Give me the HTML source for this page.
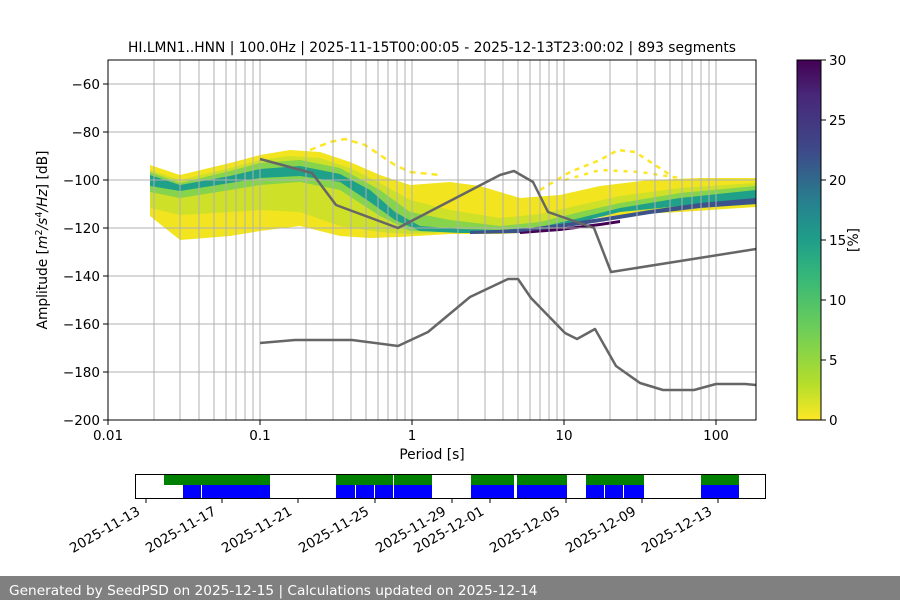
<!DOCTYPE html>
<html><head><meta charset="utf-8"><style>
html,body{margin:0;padding:0;background:#fff;}
svg{display:block;font-family:"DejaVu Sans","Liberation Sans",sans-serif;}
</style></head><body>
<svg width="900" height="600" viewBox="0 0 900 600" xmlns="http://www.w3.org/2000/svg">
<defs>
<linearGradient id="vir" x1="0" y1="1" x2="0" y2="0">
<stop offset="0" stop-color="#fde725"/><stop offset="0.1" stop-color="#b5de2b"/><stop offset="0.25" stop-color="#6ece58"/><stop offset="0.4" stop-color="#35b779"/><stop offset="0.5" stop-color="#1f9e89"/><stop offset="0.6" stop-color="#26828e"/><stop offset="0.75" stop-color="#3e4989"/><stop offset="0.9" stop-color="#482878"/><stop offset="1" stop-color="#440154"/>
</linearGradient>
<clipPath id="ax"><rect x="108" y="60" width="648" height="360"/></clipPath>
</defs>
<text x="432" y="52" font-size="13.8" text-anchor="middle">HI.LMN1..HNN | 100.0Hz | 2025-11-15T00:00:05 - 2025-12-13T23:00:02 | 893 segments</text>
<g clip-path="url(#ax)">
<polygon fill="#f2e41f" points="150,165 180,175 230,163 260,155 290,150 320,152 350,162 380,175 410,185 450,182 480,186 520,198 560,195 600,186 650,180 700,178 756,178 756,207 680,212 620,215 580,220 540,232 500,234 450,234 400,237 370,238 340,236 300,226 260,231 230,236 180,240 150,216"/>
<polygon fill="#c4e02a" opacity="0.8" points="150,170 180,180 230,168 260,160 290,156 320,158 350,168 380,183 410,200 450,210 500,218 540,214 580,205 620,196 680,188 756,183 756,205 680,208 620,212 580,218 540,228 500,232 450,232 410,234 380,232 340,226 300,212 260,210 230,212 180,215 150,208"/>
<polygon fill="#6ece58" opacity="0.75" points="150,172 180,183 230,171 260,163 300,160 340,168 380,190 410,212 450,220 500,226 540,222 580,212 620,203 680,193 756,186 756,202 680,206 620,210 580,218 540,227 500,231 450,232 410,231 380,216 340,190 300,182 260,185 230,190 180,198 150,192"/>
<polygon fill="#1fa088" points="150,175 180,185 230,176 260,169 300,166 340,174 370,190 395,212 420,226 460,229 500,230 540,227 580,218 620,208 680,198 756,190 756,203 680,206 620,212 580,222 540,229 500,233 460,233 420,231 395,220 370,202 340,182 300,176 260,178 230,183 180,191 150,186"/>
<polygon fill="#3b528b" points="470,231 520,229 560,224 600,218 650,210 700,203 756,198 756,204 700,208 650,214 600,222 560,228 520,233 470,234"/>
<polygon fill="#440154" points="520,232 560,228 600,223 620,220 620,223 600,226 560,231 520,234"/>
<polyline fill="none" stroke="#fde725" stroke-width="2.5" stroke-dasharray="6,5" points="310,150 330,142 345,139 365,145 380,155 395,165 410,172 440,175"/>
<polyline fill="none" stroke="#fde725" stroke-width="2.5" stroke-dasharray="5,5" points="540,190 570,172 600,160 618,150 635,152 655,165 675,178"/>
<polyline fill="none" stroke="#fde725" stroke-width="2.5" stroke-dasharray="4,6" points="565,180 600,170 640,172 680,178"/>
</g>
<g stroke="#b0b0b0" stroke-width="1">
<line x1="108" y1="84" x2="756" y2="84"/><line x1="108" y1="132" x2="756" y2="132"/><line x1="108" y1="180" x2="756" y2="180"/><line x1="108" y1="228" x2="756" y2="228"/><line x1="108" y1="276" x2="756" y2="276"/><line x1="108" y1="324" x2="756" y2="324"/><line x1="108" y1="372" x2="756" y2="372"/>
</g>
<g stroke="#b0b0b0" stroke-width="1">
<line x1="154" y1="60" x2="154" y2="420"/><line x1="180" y1="60" x2="180" y2="420"/><line x1="199" y1="60" x2="199" y2="420"/><line x1="214" y1="60" x2="214" y2="420"/><line x1="226" y1="60" x2="226" y2="420"/><line x1="236" y1="60" x2="236" y2="420"/><line x1="245" y1="60" x2="245" y2="420"/><line x1="253" y1="60" x2="253" y2="420"/>
<line x1="260" y1="60" x2="260" y2="420"/><line x1="306" y1="60" x2="306" y2="420"/><line x1="333" y1="60" x2="333" y2="420"/><line x1="351" y1="60" x2="351" y2="420"/><line x1="366" y1="60" x2="366" y2="420"/><line x1="378" y1="60" x2="378" y2="420"/><line x1="388" y1="60" x2="388" y2="420"/><line x1="397" y1="60" x2="397" y2="420"/><line x1="405" y1="60" x2="405" y2="420"/>
<line x1="412" y1="60" x2="412" y2="420"/><line x1="458" y1="60" x2="458" y2="420"/><line x1="485" y1="60" x2="485" y2="420"/><line x1="503" y1="60" x2="503" y2="420"/><line x1="518" y1="60" x2="518" y2="420"/><line x1="530" y1="60" x2="530" y2="420"/><line x1="540" y1="60" x2="540" y2="420"/><line x1="549" y1="60" x2="549" y2="420"/><line x1="557" y1="60" x2="557" y2="420"/>
<line x1="564" y1="60" x2="564" y2="420"/><line x1="610" y1="60" x2="610" y2="420"/><line x1="637" y1="60" x2="637" y2="420"/><line x1="655" y1="60" x2="655" y2="420"/><line x1="670" y1="60" x2="670" y2="420"/><line x1="682" y1="60" x2="682" y2="420"/><line x1="692" y1="60" x2="692" y2="420"/><line x1="701" y1="60" x2="701" y2="420"/><line x1="709" y1="60" x2="709" y2="420"/>
<line x1="716" y1="60" x2="716" y2="420"/>
</g>
<g fill="none" stroke="#666" stroke-width="2.5" stroke-linejoin="round">
<polyline points="260,159 312,173 336,205 398,228 500,175 514,171 533,182 548,212 594,228 611,272 756,249"/>
<polyline points="260,343 295,340 352,340 398,346 428,332 470,297 508,279 518,279 531,298 565,333 577,339 595,329 616,366 640,383 663,390 694,390 716,384 745,384 756,385"/>
</g>
<rect x="108" y="60" width="648" height="360" fill="none" stroke="#000" stroke-width="1"/>
<g stroke="#000"><line x1="103" y1="84" x2="108" y2="84"/><line x1="103" y1="132" x2="108" y2="132"/><line x1="103" y1="180" x2="108" y2="180"/><line x1="103" y1="228" x2="108" y2="228"/><line x1="103" y1="276" x2="108" y2="276"/><line x1="103" y1="324" x2="108" y2="324"/><line x1="103" y1="372" x2="108" y2="372"/><line x1="103" y1="420" x2="108" y2="420"/>
<line x1="108" y1="420" x2="108" y2="425"/><line x1="260" y1="420" x2="260" y2="425"/><line x1="412" y1="420" x2="412" y2="425"/><line x1="564" y1="420" x2="564" y2="425"/><line x1="716" y1="420" x2="716" y2="425"/></g>
<g font-size="13.5" text-anchor="end">
<text x="100" y="89">−60</text><text x="100" y="137">−80</text><text x="100" y="185">−100</text><text x="100" y="233">−120</text><text x="100" y="281">−140</text><text x="100" y="329">−160</text><text x="100" y="377">−180</text><text x="100" y="425">−200</text>
</g>
<g font-size="13.5" text-anchor="middle">
<text x="108" y="440">0.01</text><text x="260" y="440">0.1</text><text x="412" y="440">1</text><text x="564" y="440">10</text><text x="716" y="440">100</text>
<text x="432" y="459" font-size="13.8">Period [s]</text>
</g>
<text transform="translate(47,240) rotate(-90)" font-size="13.8" text-anchor="middle">Amplitude [<tspan font-style="italic">m</tspan><tspan font-size="9.5" dy="-5">2</tspan><tspan dy="5" font-style="italic">/s</tspan><tspan font-size="9.5" dy="-5">4</tspan><tspan dy="5" font-style="italic">/Hz</tspan>] [dB]</text>
<rect x="797" y="60" width="24" height="360" fill="url(#vir)" stroke="#000" stroke-width="1"/>
<g stroke="#000"><line x1="821" y1="60" x2="826" y2="60"/><line x1="821" y1="120" x2="826" y2="120"/><line x1="821" y1="180" x2="826" y2="180"/><line x1="821" y1="240" x2="826" y2="240"/><line x1="821" y1="300" x2="826" y2="300"/><line x1="821" y1="360" x2="826" y2="360"/><line x1="821" y1="420" x2="826" y2="420"/></g>
<g font-size="13.5"><text x="829" y="65">30</text><text x="829" y="125">25</text><text x="829" y="185">20</text><text x="829" y="245">15</text><text x="829" y="305">10</text><text x="829" y="365">5</text><text x="829" y="425">0</text></g>
<text transform="translate(858,240) rotate(-90)" font-size="13.8" text-anchor="middle">[%]</text>
<g>
<rect x="164" y="475" width="106" height="10" fill="#008000"/><rect x="183" y="485" width="87" height="13" fill="#0000ff"/><rect x="201" y="485" width="1" height="13" fill="#fff"/>
<rect x="336" y="475" width="96" height="10" fill="#008000"/><rect x="336" y="485" width="96" height="13" fill="#0000ff"/><rect x="355" y="485" width="1" height="13" fill="#fff"/><rect x="374" y="485" width="1" height="13" fill="#fff"/><rect x="393" y="475" width="1" height="23" fill="#fff"/>
<rect x="471" y="475" width="96" height="23" fill="#0000ff"/><rect x="471" y="475" width="96" height="10" fill="#008000"/><rect x="514" y="475" width="3" height="23" fill="#fff"/>
<rect x="586" y="475" width="58" height="23" fill="#0000ff"/><rect x="586" y="475" width="58" height="10" fill="#008000"/><rect x="604" y="485" width="1" height="13" fill="#fff"/><rect x="623" y="485" width="1" height="13" fill="#fff"/>
<rect x="701" y="475" width="38" height="23" fill="#0000ff"/><rect x="701" y="475" width="38" height="10" fill="#008000"/>
<rect x="135.5" y="474.5" width="630" height="24" fill="none" stroke="#000"/>
</g>
<g stroke="#000"><line x1="146" y1="498" x2="146" y2="503"/><line x1="222" y1="498" x2="222" y2="503"/><line x1="298" y1="498" x2="298" y2="503"/><line x1="375" y1="498" x2="375" y2="503"/><line x1="452" y1="498" x2="452" y2="503"/><line x1="490" y1="498" x2="490" y2="503"/><line x1="566" y1="498" x2="566" y2="503"/><line x1="642" y1="498" x2="642" y2="503"/><line x1="718" y1="498" x2="718" y2="503"/></g>
<g font-size="13.5" text-anchor="end">
<text transform="translate(141,514) rotate(-30)">2025-11-13</text>
<text transform="translate(217,514) rotate(-30)">2025-11-17</text>
<text transform="translate(293,514) rotate(-30)">2025-11-21</text>
<text transform="translate(370,514) rotate(-30)">2025-11-25</text>
<text transform="translate(447,514) rotate(-30)">2025-11-29</text>
<text transform="translate(485,514) rotate(-30)">2025-12-01</text>
<text transform="translate(561,514) rotate(-30)">2025-12-05</text>
<text transform="translate(637,514) rotate(-30)">2025-12-09</text>
<text transform="translate(713,514) rotate(-30)">2025-12-13</text>
</g>
<rect x="0" y="576" width="900" height="24" fill="#808080"/>
<text x="9" y="595" font-size="13.7" fill="#fff">Generated by SeedPSD on 2025-12-15 | Calculations updated on 2025-12-14</text>
</svg>
</body></html>
